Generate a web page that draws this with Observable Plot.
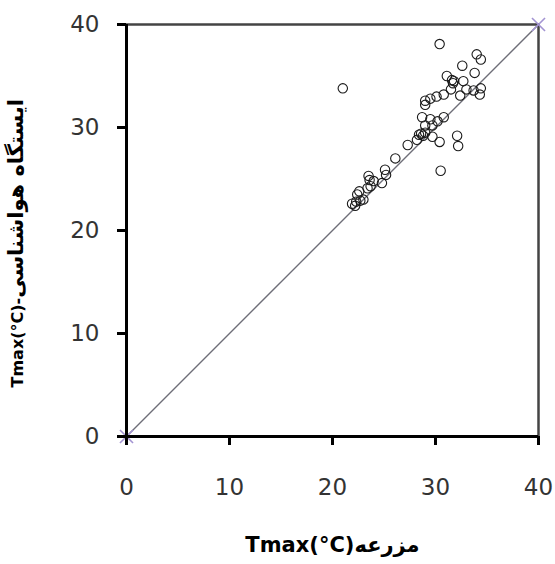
<!DOCTYPE html>
<html>
<head>
<meta charset="utf-8">
<script src="https://cdn.jsdelivr.net/npm/d3@7"></script>
<script src="https://cdn.jsdelivr.net/npm/@observablehq/plot@0.6"></script>
<style>
  html, body { margin: 0; padding: 0; background: #fff; }
  #chart svg { display: block; }
</style>
</head>
<body>
<div id="chart"></div>
<script>
// Tmax at the farm (x) vs Tmax at the weather station (y), °C
const farmTmax = [
  30.4, 21.0, 34.0, 34.4, 32.6, 33.8, 31.1, 31.6, 31.8, 31.7,
  32.7, 31.5, 32.4, 33.0, 33.7, 34.3, 34.4, 30.8, 30.1, 29.5,
  29.0, 29.0, 28.7, 29.5, 30.2, 30.8, 29.0, 29.7, 28.4, 28.6,
  28.8, 29.0, 29.7, 30.4, 32.1, 32.2, 27.3, 26.1, 30.5, 25.1,
  25.2, 24.8, 23.5, 23.6, 24.0, 23.7, 23.4, 22.6, 22.4, 23.0,
  22.7, 21.9, 22.3, 22.2, 28.2
];
const stationTmax = [
  38.1, 33.8, 37.1, 36.6, 36.0, 35.3, 35.0, 34.6, 34.5, 34.3,
  34.5, 33.7, 33.1, 33.7, 33.6, 33.2, 33.8, 33.2, 33.0, 32.8,
  32.6, 32.2, 31.0, 30.8, 30.6, 31.0, 30.2, 30.2, 29.3, 29.4,
  29.2, 29.5, 29.1, 28.6, 29.2, 28.2, 28.3, 27.0, 25.8, 25.9,
  25.4, 24.6, 25.3, 24.9, 24.8, 24.3, 24.1, 23.8, 23.5, 23.0,
  22.9, 22.6, 22.8, 22.4, 28.8
];
// 1:1 reference line
const diagX = [0, 40];
const diagY = [0, 40];
const tickValues = [0, 10, 20, 30, 40];
const xTitle = "Tmax(°C)مزرعه";
const yTitleLatin = "Tmax(°C)-";
const yTitlePersian = "ایستگاه هواشناسی";

const points = farmTmax.map((x, i) => ({x, y: stationTmax[i]}));
const diag = diagX.map((x, i) => ({x, y: diagY[i]}));

const chart = Plot.plot({
  width: 555,
  height: 564,
  marginLeft: 126,
  marginRight: 17,
  marginTop: 24,
  marginBottom: 128,
  style: {fontFamily: "'DejaVu Sans', sans-serif", background: "#fff"},
  x: {domain: [0, 40], ticks: tickValues},
  y: {domain: [0, 40], ticks: tickValues},
  marks: [
    Plot.frame({stroke: "#444", strokeWidth: 2.5}),
    Plot.line(diag, {x: "x", y: "y", stroke: "#6e6e78", strokeWidth: 1.4}),
    Plot.dot(diag, {x: "x", y: "y", symbol: "times", r: 6, stroke: "#a394d2", strokeWidth: 1.6}),
    Plot.dot(points, {x: "x", y: "y", r: 4.7, stroke: "#1a1a1a", strokeWidth: 1.1, fill: "none"}),
    Plot.ruleX([0], {stroke: "#000", strokeWidth: 3}),
    Plot.ruleY([0], {stroke: "#000", strokeWidth: 3}),
    Plot.axisX({ticks: tickValues, tickSize: 9, tickPadding: 33, label: null,
      fontSize: 23, stroke: "#000", strokeWidth: 3, color: "#333", tickFormat: d => String(d)}),
    Plot.axisY({ticks: tickValues, tickSize: 9, tickPadding: 18, label: null,
      fontSize: 23, stroke: "#000", strokeWidth: 3, color: "#333", tickFormat: d => String(d)}),
    Plot.text([xTitle], {frameAnchor: "bottom", dy: 115, fontSize: 21, fontWeight: "bold",
      fill: "#000", text: d => d}),
    Plot.text([yTitleLatin + yTitlePersian], {frameAnchor: "bottom-left", dx: -104, dy: -49, rotate: -90,
      textAnchor: "start", fontSize: 16, fontWeight: "bold", fill: "#000", text: d => d,
      className: "ytitle"})
  ]
});
document.getElementById("chart").appendChild(chart);

// Give the Persian part of the y title a larger size, as in the reference
d3.select(chart).selectAll(".ytitle text").each(function () {
  const t = d3.select(this);
  t.text(null);
  t.append("tspan").text(yTitleLatin);
  t.append("tspan").attr("font-size", 21).text(yTitlePersian);
});
</script>
</body>
</html>
